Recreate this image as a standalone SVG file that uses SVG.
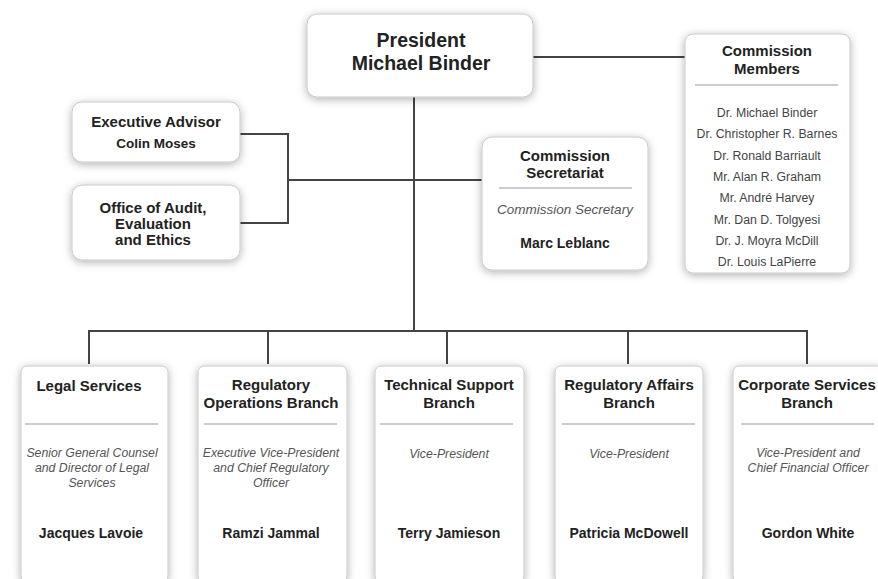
<svg xmlns="http://www.w3.org/2000/svg" width="878" height="579" viewBox="0 0 878 579">
<defs>
<filter id="sh" x="-20%" y="-20%" width="140%" height="140%">
<feDropShadow dx="0" dy="2" stdDeviation="4" flood-color="#000" flood-opacity="0.3"/>
</filter>
<style>
.box{fill:#fff;stroke:#c8c8c8;stroke-width:1;filter:url(#sh)}
.ln{stroke:#444;stroke-width:2;fill:none}
.sep{stroke:#999;stroke-width:1}
text{font-family:"Liberation Sans",Arial,sans-serif;text-anchor:middle}
.t{font-weight:bold;font-size:15px;fill:#222}
.big{font-weight:bold;font-size:19.5px;fill:#222}
.it{font-style:italic;font-size:12.3px;fill:#555}
.nm{font-weight:bold;font-size:14px;fill:#222}
.mem{font-size:12.3px;fill:#444}
</style>
</defs>
<rect width="878" height="579" fill="#fff"/>
<g id="connectors">
<path class="ln" d="M414 97 V331"/>
<path class="ln" d="M533 57 H685"/>
<path class="ln" d="M240 134 H288 V223 H240"/>
<path class="ln" d="M288 180 H482"/>
<path class="ln" d="M89 364 V331 H807 V364"/>
<path class="ln" d="M268 331 V364"/>
<path class="ln" d="M447 331 V364"/>
<path class="ln" d="M628 331 V364"/>
</g>
<g id="president">
<rect class="box" x="307" y="14" width="226" height="83" rx="10"/>
<text class="big" x="421" y="47">President</text>
<text class="big" x="421" y="70">Michael Binder</text>
</g>
<g id="commission-members">
<rect class="box" x="685" y="34" width="165" height="239" rx="8"/>
<text class="t" x="767" y="56">Commission</text>
<text class="t" x="767" y="74">Members</text>
<line class="sep" x1="695" y1="85" x2="838" y2="85"/>
<text class="mem" x="767" y="117">Dr. Michael Binder</text>
<text class="mem" x="767" y="138">Dr. Christopher R. Barnes</text>
<text class="mem" x="767" y="160">Dr. Ronald Barriault</text>
<text class="mem" x="767" y="181">Mr. Alan R. Graham</text>
<text class="mem" x="767" y="202">Mr. André Harvey</text>
<text class="mem" x="767" y="224">Mr. Dan D. Tolgyesi</text>
<text class="mem" x="767" y="245">Dr. J. Moyra McDill</text>
<text class="mem" x="767" y="266">Dr. Louis LaPierre</text>
</g>
<g id="executive-advisor">
<rect class="box" x="72" y="102" width="168" height="60" rx="10"/>
<text class="t" x="156" y="127">Executive Advisor</text>
<text class="nm" style="font-size:13.5px" x="156" y="148">Colin Moses</text>
</g>
<g id="audit-office">
<rect class="box" x="72" y="185" width="168" height="75" rx="10"/>
<text class="t" x="153" y="213">Office of Audit,</text>
<text class="t" x="153" y="229">Evaluation</text>
<text class="t" x="153" y="245">and Ethics</text>
</g>
<g id="commission-secretariat">
<rect class="box" x="482" y="137" width="166" height="133" rx="10"/>
<text class="t" x="565" y="161">Commission</text>
<text class="t" x="565" y="178">Secretariat</text>
<line class="sep" x1="499" y1="188" x2="632" y2="188"/>
<text class="it" style="font-size:13.5px" x="565" y="214">Commission Secretary</text>
<text class="nm" x="565" y="248">Marc Leblanc</text>
</g>
<g id="legal-services">
<rect class="box" x="21" y="366" width="147" height="216" rx="6"/>
<text class="t" x="89" y="391">Legal Services</text>
<line class="sep" x1="25" y1="424" x2="158" y2="424"/>
<text class="it" x="92" y="457">Senior General Counsel</text>
<text class="it" x="92" y="472">and Director of Legal</text>
<text class="it" x="92" y="487">Services</text>
<text class="nm" x="91" y="538">Jacques Lavoie</text>
</g>
<g id="regulatory-operations">
<rect class="box" x="198" y="366" width="149" height="216" rx="6"/>
<text class="t" x="271" y="390">Regulatory</text>
<text class="t" x="271" y="408">Operations Branch</text>
<line class="sep" x1="204" y1="424" x2="337" y2="424"/>
<text class="it" x="271" y="457">Executive Vice-President</text>
<text class="it" x="271" y="472">and Chief Regulatory</text>
<text class="it" x="271" y="487">Officer</text>
<text class="nm" x="271" y="538">Ramzi Jammal</text>
</g>
<g id="technical-support">
<rect class="box" x="375" y="366" width="149" height="216" rx="6"/>
<text class="t" x="449" y="390">Technical Support</text>
<text class="t" x="449" y="408">Branch</text>
<line class="sep" x1="380" y1="424" x2="513" y2="424"/>
<text class="it" x="449" y="458">Vice-President</text>
<text class="nm" x="449" y="538">Terry Jamieson</text>
</g>
<g id="regulatory-affairs">
<rect class="box" x="555" y="366" width="148" height="216" rx="6"/>
<text class="t" x="629" y="390">Regulatory Affairs</text>
<text class="t" x="629" y="408">Branch</text>
<line class="sep" x1="562" y1="424" x2="695" y2="424"/>
<text class="it" x="629" y="458">Vice-President</text>
<text class="nm" x="629" y="538">Patricia McDowell</text>
</g>
<g id="corporate-services">
<rect class="box" x="733" y="366" width="150" height="216" rx="6"/>
<text class="t" x="807" y="390">Corporate Services</text>
<text class="t" x="807" y="408">Branch</text>
<line class="sep" x1="741" y1="424" x2="874" y2="424"/>
<text class="it" x="808" y="457">Vice-President and</text>
<text class="it" x="808" y="472">Chief Financial Officer</text>
<text class="nm" x="808" y="538">Gordon White</text>
</g>
</svg>
